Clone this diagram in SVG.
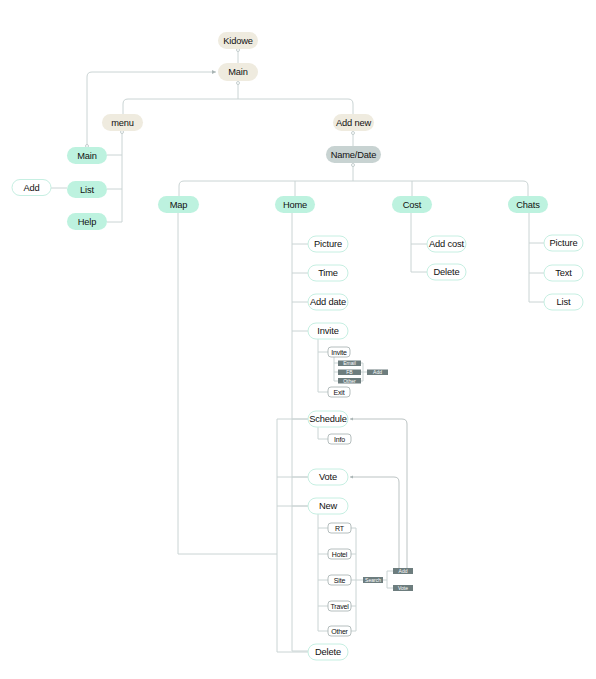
<svg xmlns="http://www.w3.org/2000/svg" width="596" height="679" viewBox="0 0 596 679">
<defs>
<style>
.bg{fill:#ffffff}
.ln{fill:none;stroke:#cad4d4;stroke-width:1}
.rl{fill:none;stroke:#a9b4b4;stroke-width:0.8}
.dot{fill:#ffffff;stroke:#b8c3c3;stroke-width:0.8}
.beige{fill:#efebdf}
.mint{fill:#bdf2df}
.gray{fill:#c8d3d2}
.leaf{fill:#ffffff;stroke:#c6efe2;stroke-width:1}
.sm{fill:#ffffff;stroke:#a2adad;stroke-width:0.8}
.dk{fill:#6d7d7e}
text{font-family:"Liberation Sans",Arial,sans-serif;fill:#111111;text-anchor:middle;dominant-baseline:central}
.t9{font-size:9.3px;letter-spacing:-0.15px}
.t7{font-size:7px;letter-spacing:-0.2px}
.t5{font-size:5px;fill:#ffffff}
</style>
<marker id="ah" viewBox="0 0 6 6" refX="5" refY="3" markerWidth="5" markerHeight="5" orient="auto">
<path d="M0,0.5 L5,3 L0,5.5 z" fill="#a9b4b4"/>
</marker>
</defs>
<rect class="bg" x="0" y="0" width="596" height="679"/>
<g id="connectors">
<path class="ln" d="M238,50 V63"/>
<path class="ln" d="M238,83 V99 M128,99 H348 M128,99 Q123,99 123,104 V114 M348,99 Q353,99 353,104 V114"/>
<path class="ln" d="M353,133 V146"/>
<path class="ln" d="M353,165 V181 M184,181 H523 M184,181 Q179,181 179,186 V196 M523,181 Q528,181 528,186 V196 M295,181 V196 M412,181 V196"/>
<path class="ln" d="M122,132 V222 M107,155 H122 M107,189 H122 M107,222 H122"/>
<path class="ln" d="M51,188 H67"/>
<path class="ln" d="M87,146 V77 Q87,72 92,72 H216" marker-end="url(#ah)"/>
<path class="ln" d="M292,213 V651 M292,244 H308 M292,273 H308 M292,302 H308 M292,331 H308 M292,419 H308 M292,477 H308 M292,506 H308 M292,651 H308"/>
<path class="ln" d="M178,213 V554 H277 M277,419 V652 M277,419 H308 M277,477 H308 M277,506 H308 M277,652 H308"/>
<path class="ln" d="M411,213 V272 M411,244 H427 M411,272 H427"/>
<path class="ln" d="M529,213 V302 M529,243 H544 M529,273 H544 M529,302 H544"/>
<path class="ln" d="M318,339 V392 M318,352 H328 M318,392 H328"/>
<path class="ln" d="M334,357 V381 M334,363 H338 M334,372 H338 M334,381 H338"/>
<path class="ln" d="M361,363 H363 V381 H361 M361,372 H367"/>
<path class="ln" d="M318,427 V439 H328"/>
<path class="ln" d="M318,514 V631 M318,528 H328 M318,554 H328 M318,580 H328 M318,606 H328 M318,631 H328"/>
<path class="ln" d="M351,528 H356 V631 H351 M351,554 H356 M351,606 H356 M351,580 H363"/>
<path class="ln" d="M383,580 H387 M387,571 V588 M387,571 H393 M387,588 H393"/>
<path class="rl" d="M407,568 V424 Q407,419 402,419 H350" marker-end="url(#ah)"/>
<path class="rl" d="M399,568 V482 Q399,477 394,477 H350" marker-end="url(#ah)"/>
<circle class="dot" cx="238" cy="50" r="1.5"/>
<circle class="dot" cx="238" cy="83" r="1.5"/>
<circle class="dot" cx="122" cy="132" r="1.5"/>
<circle class="dot" cx="353" cy="133" r="1.5"/>
<circle class="dot" cx="353" cy="165" r="1.5"/>
<circle class="dot" cx="87" cy="146" r="1.5"/>
</g>
<g id="kidowe"><rect class="beige" x="218" y="32" width="40" height="17" rx="8.5"/><text class="t9" x="238" y="40.5">Kidowe</text></g>
<g id="main"><rect class="beige" x="218" y="63" width="40" height="18" rx="9"/><text class="t9" x="238" y="72">Main</text></g>
<g id="menu"><rect class="beige" x="102" y="114" width="41" height="17" rx="8.5"/><text class="t9" x="122.5" y="122.5">menu</text></g>
<g id="addnew"><rect class="beige" x="333" y="114" width="41" height="17" rx="8.5"/><text class="t9" x="353.5" y="122.5">Add new</text></g>
<g id="namedate"><rect class="gray" x="326" y="146" width="55" height="17" rx="8.5"/><text class="t9" x="353.5" y="154.5">Name/Date</text></g>
<g id="menu-main"><rect class="mint" x="67" y="147" width="40" height="17" rx="8.5"/><text class="t9" x="87" y="155.5">Main</text></g>
<g id="menu-list"><rect class="mint" x="67" y="181" width="40" height="17" rx="8.5"/><text class="t9" x="87" y="189.5">List</text></g>
<g id="menu-help"><rect class="mint" x="67" y="213" width="40" height="17" rx="8.5"/><text class="t9" x="87" y="221.5">Help</text></g>
<g id="list-add"><rect class="leaf" x="12" y="179.5" width="39" height="16" rx="8"/><text class="t9" x="31.5" y="187.5">Add</text></g>
<g id="map"><rect class="mint" x="158" y="196" width="41" height="17" rx="8.5"/><text class="t9" x="178.5" y="204.5">Map</text></g>
<g id="home"><rect class="mint" x="275" y="196" width="40" height="17" rx="8.5"/><text class="t9" x="295" y="204.5">Home</text></g>
<g id="cost"><rect class="mint" x="392" y="196" width="40" height="17" rx="8.5"/><text class="t9" x="412" y="204.5">Cost</text></g>
<g id="chats"><rect class="mint" x="508" y="196" width="40" height="17" rx="8.5"/><text class="t9" x="528" y="204.5">Chats</text></g>
<g id="home-picture"><rect class="leaf" x="308" y="236" width="40" height="16" rx="8"/><text class="t9" x="328" y="244">Picture</text></g>
<g id="home-time"><rect class="leaf" x="308" y="265" width="40" height="16" rx="8"/><text class="t9" x="328" y="273">Time</text></g>
<g id="home-adddate"><rect class="leaf" x="308" y="294" width="40" height="16" rx="8"/><text class="t9" x="328" y="302">Add date</text></g>
<g id="home-invite"><rect class="leaf" x="308" y="323" width="40" height="16" rx="8"/><text class="t9" x="328" y="331">Invite</text></g>
<g id="home-schedule"><rect class="leaf" x="308" y="411" width="40" height="16" rx="8"/><text class="t9" x="328" y="419">Schedule</text></g>
<g id="home-vote"><rect class="leaf" x="308" y="469" width="40" height="16" rx="8"/><text class="t9" x="328" y="477">Vote</text></g>
<g id="home-new"><rect class="leaf" x="308" y="498" width="40" height="16" rx="8"/><text class="t9" x="328" y="506">New</text></g>
<g id="home-delete"><rect class="leaf" x="308" y="644" width="40" height="16" rx="8"/><text class="t9" x="328" y="652">Delete</text></g>
<g id="cost-addcost"><rect class="leaf" x="427" y="236" width="39" height="16" rx="8"/><text class="t9" x="446.5" y="244">Add cost</text></g>
<g id="cost-delete"><rect class="leaf" x="427" y="264" width="39" height="16" rx="8"/><text class="t9" x="446.5" y="272">Delete</text></g>
<g id="chats-picture"><rect class="leaf" x="544" y="235" width="39" height="16" rx="8"/><text class="t9" x="563.5" y="243">Picture</text></g>
<g id="chats-text"><rect class="leaf" x="544" y="265" width="39" height="16" rx="8"/><text class="t9" x="563.5" y="273">Text</text></g>
<g id="chats-list"><rect class="leaf" x="544" y="294" width="39" height="16" rx="8"/><text class="t9" x="563.5" y="302">List</text></g>
<g id="invite-invite"><rect class="sm" x="328" y="347" width="22" height="10" rx="3"/><text class="t7" x="339" y="352">Invite</text></g>
<g id="invite-exit"><rect class="sm" x="328" y="387" width="22" height="10" rx="3"/><text class="t7" x="339" y="392">Exit</text></g>
<g id="invite-email"><rect class="dk" x="338" y="360.5" width="23" height="5.5"/><text class="t5" x="349.5" y="363.3">Email</text></g>
<g id="invite-fb"><rect class="dk" x="338" y="369.5" width="23" height="5.5"/><text class="t5" x="349.5" y="372.3">FB</text></g>
<g id="invite-other"><rect class="dk" x="338" y="378" width="23" height="5.5"/><text class="t5" x="349.5" y="380.8">Other</text></g>
<g id="invite-add"><rect class="dk" x="367" y="369.5" width="21" height="5.5"/><text class="t5" x="377.5" y="372.3">Add</text></g>
<g id="schedule-info"><rect class="sm" x="328" y="434" width="23" height="10" rx="3"/><text class="t7" x="339.5" y="439">Info</text></g>
<g id="new-rt"><rect class="sm" x="328" y="523" width="23" height="10" rx="3"/><text class="t7" x="339.5" y="528">RT</text></g>
<g id="new-hotel"><rect class="sm" x="328" y="549" width="23" height="10" rx="3"/><text class="t7" x="339.5" y="554">Hotel</text></g>
<g id="new-site"><rect class="sm" x="328" y="575" width="23" height="10" rx="3"/><text class="t7" x="339.5" y="580">Site</text></g>
<g id="new-travel"><rect class="sm" x="328" y="601" width="23" height="10" rx="3"/><text class="t7" x="339.5" y="606">Travel</text></g>
<g id="new-other"><rect class="sm" x="328" y="626" width="23" height="10" rx="3"/><text class="t7" x="339.5" y="631">Other</text></g>
<g id="search"><rect class="dk" x="363" y="577" width="20" height="6"/><text class="t5" x="373" y="580">Search</text></g>
<g id="search-add"><rect class="dk" x="393" y="568" width="20" height="6"/><text class="t5" x="403" y="571">Add</text></g>
<g id="search-vote"><rect class="dk" x="393" y="585" width="20" height="6"/><text class="t5" x="403" y="588">Vote</text></g>
</svg>
